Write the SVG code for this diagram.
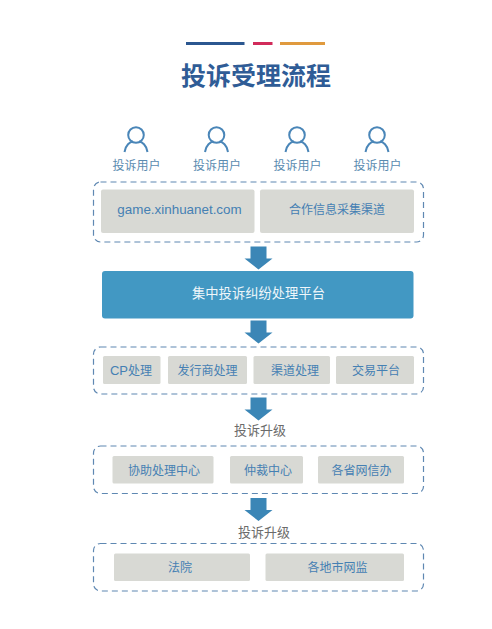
<svg xmlns="http://www.w3.org/2000/svg" width="492" height="629" viewBox="0 0 492 629">
<defs>
<style>
text{font-family:"Noto Sans CJK SC","Liberation Sans",sans-serif;text-anchor:middle}
.dash{fill:none;stroke:#5f88b2;stroke-width:1.200;stroke-dasharray:6 4}
.cell{fill:#d8d9d4}
.lbl{font-size:12px;fill:#4580b3}
.usr{font-size:12px;fill:#5a8bb0}
.up{font-size:13px;fill:#6b6b6b}
.ic{fill:none;stroke:#4a86b8;stroke-width:2}
.arr{fill:#3b86b6}
</style>
<g id="user-icon"><circle class="ic" cx="0" cy="0" r="7.800"/><path class="ic" d="M-11.500 17C-10.500 10-6 7-3 6.500M11.500 17C10.500 10 6 7 3 6.500"/></g>
<polygon id="arrow" class="arr" points="-8,0 8,0 8,12 14,12 0,23 -14,12 -8,12"/>
</defs>
<rect width="492" height="629" fill="#fff"/>
<g id="header">
<rect x="186" y="42" width="58.500" height="3" fill="#2b5790"/>
<rect x="253" y="42" width="19.500" height="3" fill="#d12b5a"/>
<rect x="280" y="42" width="45" height="3" fill="#e09a3e"/>
<text x="256" y="85" font-size="25" font-weight="700" fill="#2f5c96">投诉受理流程</text>
</g>
<g id="user-1"><use href="#user-icon" x="136" y="135"/><text class="usr" x="136.500" y="170">投诉用户</text></g>
<g id="user-2"><use href="#user-icon" x="216.500" y="135"/><text class="usr" x="217" y="170">投诉用户</text></g>
<g id="user-3"><use href="#user-icon" x="297" y="135"/><text class="usr" x="297.500" y="170">投诉用户</text></g>
<g id="user-4"><use href="#user-icon" x="377" y="135"/><text class="usr" x="377.500" y="170">投诉用户</text></g>
<g id="channels">
<rect class="dash" x="93.500" y="182" width="330" height="60" rx="7"/>
<g id="channel-game"><rect class="cell" x="101" y="189.500" width="153.500" height="43.500" rx="2"/><text class="lbl" x="179.500" y="214" style="font-family:'Liberation Sans',sans-serif;font-size:13.400px">game.xinhuanet.com</text></g>
<g id="channel-partner"><rect class="cell" x="260" y="189.500" width="154" height="43.500" rx="2"/><text class="lbl" x="337" y="214">合作信息采集渠道</text></g>
</g>
<g id="platform"><rect x="102" y="271" width="311.500" height="47.500" rx="3" fill="#4298c3"/><text x="258.500" y="298" font-size="13.300" fill="#eef6fa">集中投诉纠纷处理平台</text></g>
<g id="handlers">
<rect class="dash" x="93.500" y="347" width="330" height="47" rx="7"/>
<g id="h-cp"><rect class="cell" x="103" y="356" width="57.500" height="28" rx="1.500"/><text class="lbl" x="131" y="375"><tspan style="font-family:'Liberation Sans',sans-serif;font-size:13px">CP</tspan>处理</text></g>
<g id="h-pub"><rect class="cell" x="168" y="356" width="79" height="28" rx="1.500"/><text class="lbl" x="207.500" y="375">发行商处理</text></g>
<g id="h-chan"><rect class="cell" x="253.500" y="356" width="76.500" height="28" rx="1.500"/><text class="lbl" x="295" y="375">渠道处理</text></g>
<g id="h-trade"><rect class="cell" x="336" y="356" width="78" height="28" rx="1.500"/><text class="lbl" x="376" y="375">交易平台</text></g>
</g>
<text id="upgrade-1" class="up" x="260" y="434.500">投诉升级</text>
<g id="mediators">
<rect class="dash" x="93.500" y="446" width="330" height="47.500" rx="7"/>
<g id="m-assist"><rect class="cell" x="112.500" y="456" width="101" height="27.500" rx="1.500"/><text class="lbl" x="164" y="474.500">协助处理中心</text></g>
<g id="m-arb"><rect class="cell" x="230" y="456" width="73" height="27.500" rx="1.500"/><text class="lbl" x="268" y="474.500">仲裁中心</text></g>
<g id="m-prov"><rect class="cell" x="318" y="456" width="86" height="27.500" rx="1.500"/><text class="lbl" x="361.500" y="474.500">各省网信办</text></g>
</g>
<text id="upgrade-2" class="up" x="264" y="536.500">投诉升级</text>
<g id="authorities">
<rect class="dash" x="93.500" y="543.500" width="330" height="47.500" rx="7"/>
<g id="a-court"><rect class="cell" x="114" y="553.500" width="136" height="27.500" rx="1.500"/><text class="lbl" x="180" y="572">法院</text></g>
<g id="a-local"><rect class="cell" x="265.500" y="553.500" width="138.500" height="27.500" rx="1.500"/><text class="lbl" x="337.500" y="572">各地市网监</text></g>
</g>
<g id="connectors">
<use href="#arrow" x="258.500" y="246.500"/>
<use href="#arrow" x="258.500" y="320.500"/>
<use href="#arrow" x="258.500" y="397.500"/>
<use href="#arrow" x="258.500" y="498"/>
</g>
</svg>
